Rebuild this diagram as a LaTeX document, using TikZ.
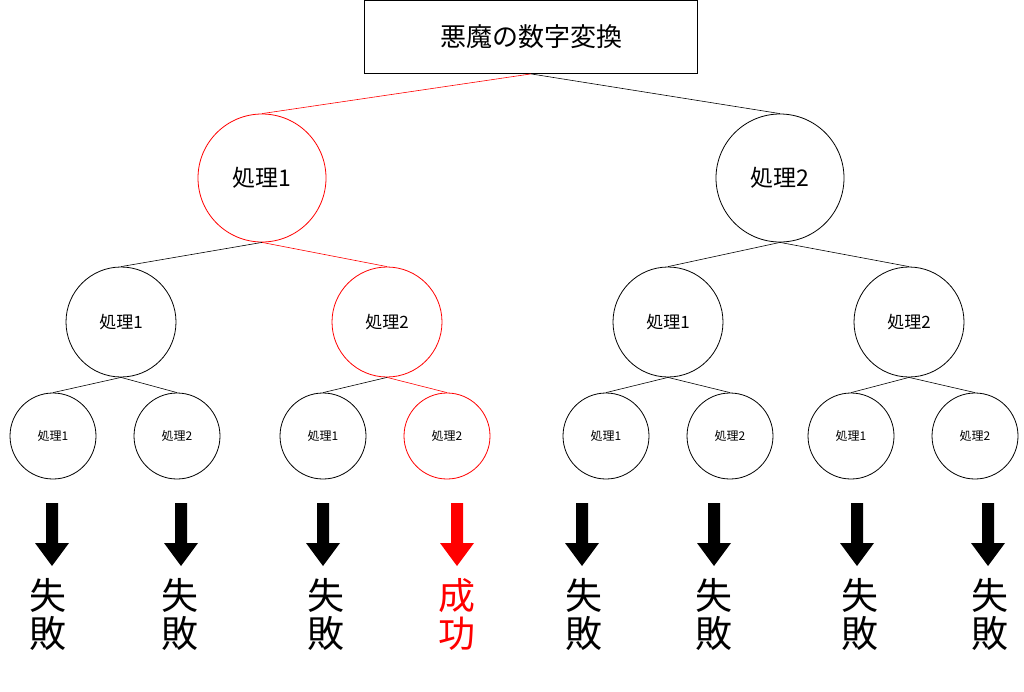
\documentclass[tikz,border=0pt]{standalone}
\usepackage{fontspec}
\newfontfamily\jp{Noto Sans CJK JP}
\begin{document}
\begin{tikzpicture}[x=1pt,y=-1pt,
  c1/.style={circle,draw,thick,minimum size=128pt,inner sep=0pt,font=\jp\fontsize{23}{26}\selectfont},
  c2/.style={circle,draw,thick,minimum size=110pt,inner sep=0pt,font=\jp\fontsize{17}{20}\selectfont},
  c3/.style={circle,draw,thick,minimum size=86pt,inner sep=0pt,font=\jp\fontsize{12}{14}\selectfont},
  ln/.style={draw,line width=0.6pt},
  hot/.style={draw=red},
  res/.style={font=\jp\fontsize{37}{38}\selectfont,align=center}]
\useasboundingbox (0,0) rectangle (1024,691);
\node[draw,thick,minimum width=333pt,minimum height=73pt,font=\jp\fontsize{26}{30}\selectfont] (top) at (531,37) {悪魔の数字変換};
\node[c1,hot] (a) at (262,178) {処理1};
\node[c1] (b) at (780,178) {処理2};
\node[c2] (aa) at (121,322) {処理1};
\node[c2,hot] (ab) at (387,322) {処理2};
\node[c2] (ba) at (668,322) {処理1};
\node[c2] (bb) at (909,322) {処理2};
\foreach \n/\x/\t/\col in {aaa/53/1/black,aab/177/2/black,aba/323/1/black,abb/447/2/red,baa/606/1/black,bab/730/2/black,bba/851/1/black,bbb/975/2/black}{
  \node[c3,draw=\col] (\n) at (\x,436) {処理\t};}
\draw[ln,red] (top.south) -- (a.north);
\draw[ln] (top.south) -- (b.north);
\draw[ln] (a.south) -- (aa.north);
\draw[ln,red] (a.south) -- (ab.north);
\draw[ln] (b.south) -- (ba.north);
\draw[ln] (b.south) -- (bb.north);
\draw[ln] (aa.south) -- (aaa.north);
\draw[ln] (aa.south) -- (aab.north);
\draw[ln] (ab.south) -- (aba.north);
\draw[ln,red] (ab.south) -- (abb.north);
\draw[ln] (ba.south) -- (baa.north);
\draw[ln] (ba.south) -- (bab.north);
\draw[ln] (bb.south) -- (bba.north);
\draw[ln] (bb.south) -- (bbb.north);
\foreach \x/\col in {52/black,181/black,323/black,457/red,582/black,714/black,857/black,988/black}{
  \fill[\col] (\x-6,503) -- (\x+6,503) -- (\x+6,543) -- (\x+17,543) -- (\x,566) -- (\x-17,543) -- (\x-6,543) -- cycle;}
\foreach \x in {48,180,326,584,714,860,990}{\node[res] at (\x,614) {失\\敗};}
\node[res,red] at (457,614) {成\\功};
\end{tikzpicture}
\end{document}
